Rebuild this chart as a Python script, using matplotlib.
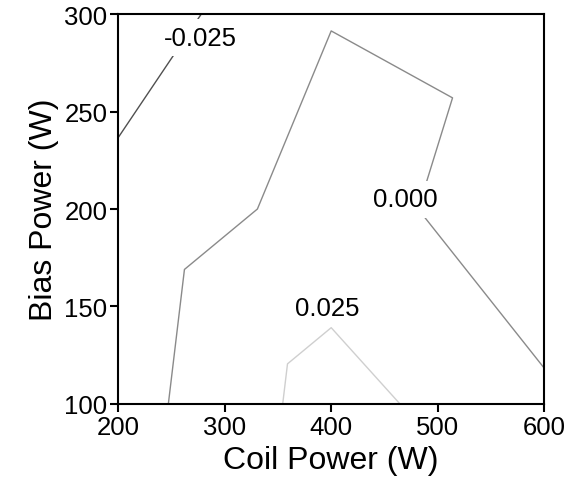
import numpy as np
import matplotlib.pyplot as plt
import matplotlib.tri as mtri

plt.rcParams['font.family'] = ['Liberation Sans', 'DejaVu Sans']

# design points (coil power, bias power) and response
coil = [200, 400, 600, 200, 400, 600, 200, 400, 600]
bias = [100, 100, 100, 200, 200, 200, 300, 300, 300]
resp = [-0.0109, 0.0356, 0.0028, -0.0160, 0.0085, -0.0123, -0.0404, -0.0008, -0.0064]
# triangles used by the original interpolation (node indices)
tris = [[0, 1, 3], [1, 4, 3], [3, 4, 7], [3, 7, 6],
        [1, 2, 4], [2, 5, 4], [4, 5, 8], [4, 8, 7]]

levels = [-0.025, 0.0, 0.025]
level_colors = ['#505050', '#8a8a8a', '#cfcfcf']
label_text = ['-0.025', '0.000', '0.025']
label_pos = [(277, 288), (470, 205), (396, 149)]
label_mask = [True, True, False]

xticks = [200, 300, 400, 500, 600]
yticks = [100, 150, 200, 250, 300]

fig = plt.figure(figsize=(5.78, 4.89), dpi=100)
ax = fig.add_axes([0.205, 0.172, 0.736, 0.797])

tri = mtri.Triangulation(coil, bias, tris)
ax.tricontour(tri, resp, levels=levels, colors=level_colors, linewidths=1.0)

for txt, (lx, ly), m in zip(label_text, label_pos, label_mask):
    kw = {}
    if m:
        kw['bbox'] = dict(boxstyle='square,pad=0.25', facecolor='white', edgecolor='none')
    ax.text(lx, ly, txt, fontsize=18.5, ha='center', va='center', zorder=5, **kw)

ax.set_xlim(200, 600)
ax.set_ylim(100, 300)
ax.set_xticks(xticks)
ax.set_yticks(yticks)
ax.tick_params(direction='out', length=6, width=1.5, labelsize=18.5, pad=2)
for s in ax.spines.values():
    s.set_linewidth(1.5)
ax.set_xlabel('Coil Power (W)', fontsize=23, labelpad=4)
ax.set_ylabel('Bias Power (W)', fontsize=23, labelpad=4)

fig.savefig('out.png', dpi=100)
